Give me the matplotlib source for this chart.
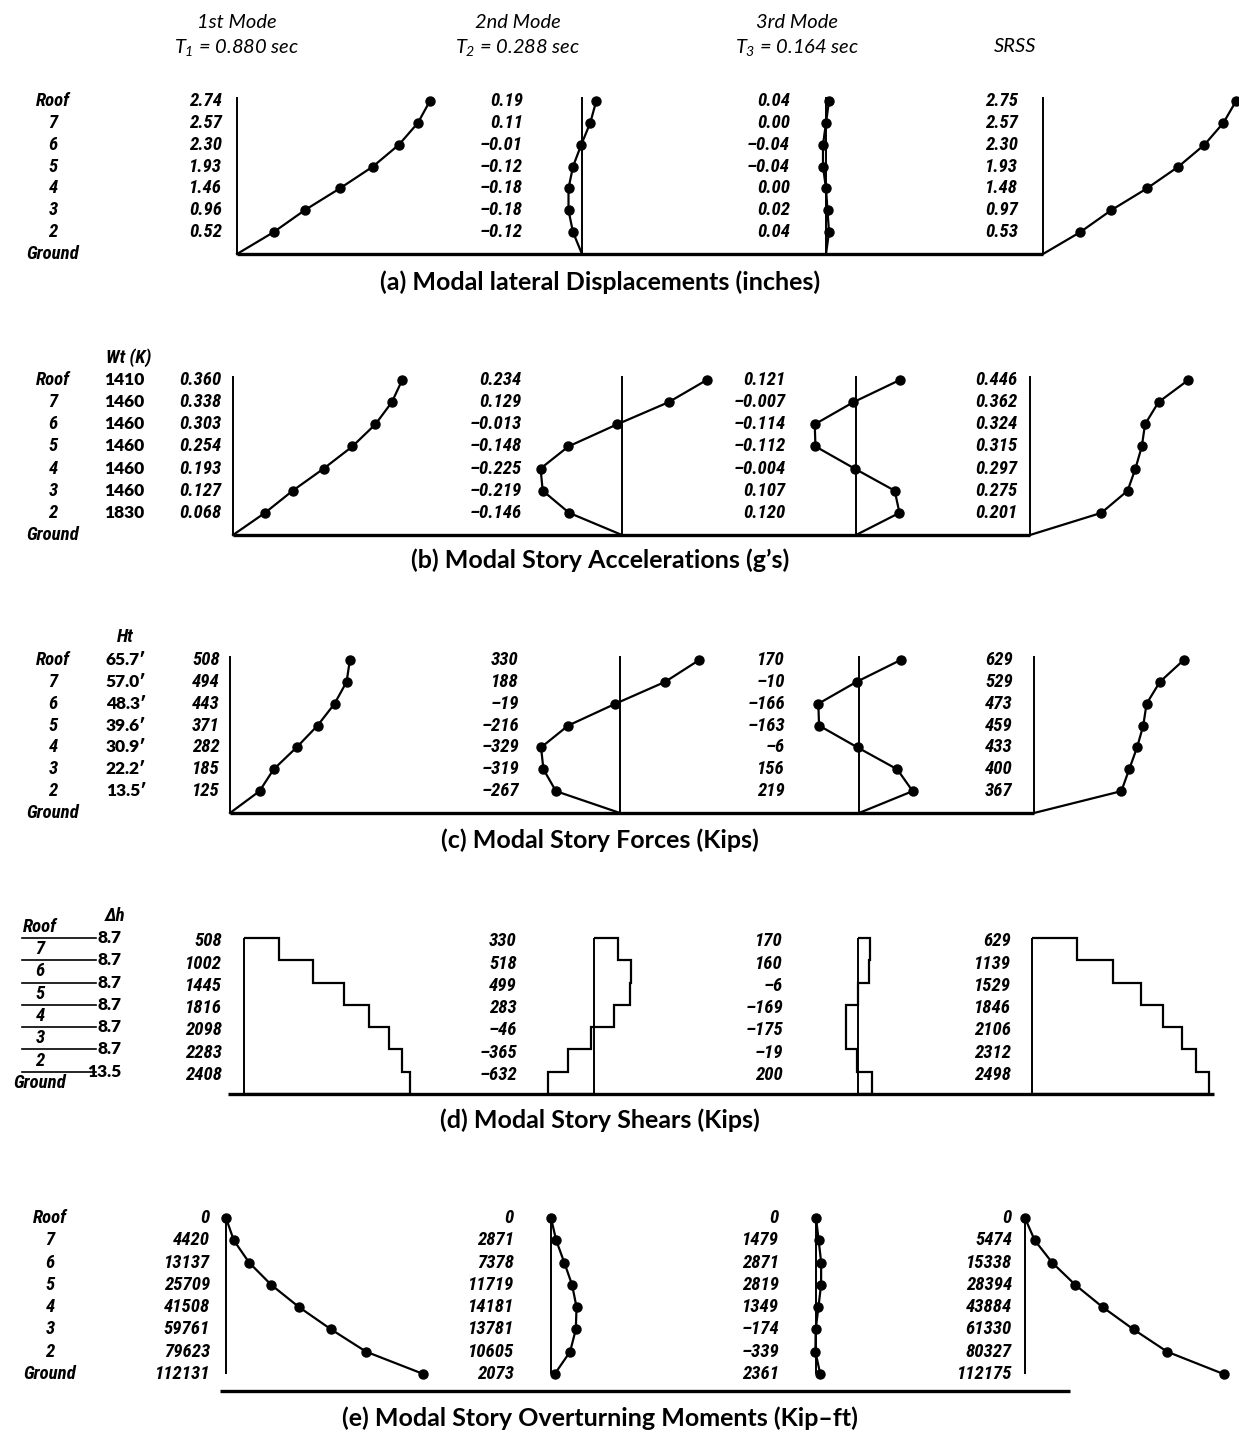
import matplotlib
matplotlib.use("Agg")
import matplotlib.pyplot as plt

# values listed from Roof down to level 2 (Ground is the zero base)
levels = ["Roof", "7", "6", "5", "4", "3", "2", "Ground"]

disp_m1 = [2.74, 2.57, 2.30, 1.93, 1.46, 0.96, 0.52]
disp_m2 = [0.19, 0.11, -0.01, -0.12, -0.18, -0.18, -0.12]
disp_m3 = [0.04, 0.00, -0.04, -0.04, 0.00, 0.02, 0.04]
disp_srss = [2.75, 2.57, 2.30, 1.93, 1.48, 0.97, 0.53]

weights = [1410, 1460, 1460, 1460, 1460, 1460, 1830]
acc_m1 = [0.360, 0.338, 0.303, 0.254, 0.193, 0.127, 0.068]
acc_m2 = [0.234, 0.129, -0.013, -0.148, -0.225, -0.219, -0.146]
acc_m3 = [0.121, -0.007, -0.114, -0.112, -0.004, 0.107, 0.120]
acc_srss = [0.446, 0.362, 0.324, 0.315, 0.297, 0.275, 0.201]

heights = [65.7, 57.0, 48.3, 39.6, 30.9, 22.2, 13.5]
force_m1 = [508, 494, 443, 371, 282, 185, 125]
force_m2 = [330, 188, -19, -216, -329, -319, -267]
force_m3 = [170, -10, -166, -163, -6, 156, 219]
force_srss = [629, 529, 473, 459, 433, 400, 367]

story_dh = [8.7, 8.7, 8.7, 8.7, 8.7, 8.7, 13.5]
shear_m1 = [508, 1002, 1445, 1816, 2098, 2283, 2408]
shear_m2 = [330, 518, 499, 283, -46, -365, -632]
shear_m3 = [170, 160, -6, -169, -175, -19, 200]
shear_srss = [629, 1139, 1529, 1846, 2106, 2312, 2498]

# overturning moments, Roof down to Ground (8 values)
otm_m1 = [0, 4420, 13137, 25709, 41508, 59761, 79623, 112131]
otm_m2 = [0, 2871, 7378, 11719, 14181, 13781, 10605, 2073]
otm_m3 = [0, 1479, 2871, 2819, 1349, -174, -339, 2361]
otm_srss = [0, 5474, 15338, 28394, 43884, 61330, 80327, 112175]

modes = ["1st Mode", "2nd Mode", "3rd Mode"]
periods = ["$T_1$ = 0.880 sec", "$T_2$ = 0.288 sec", "$T_3$ = 0.164 sec"]

plt.rcParams['mathtext.fontset'] = 'custom'
plt.rcParams['mathtext.it'] = 'Lato:italic'
plt.rcParams['mathtext.rm'] = 'Lato:italic'

W, H = 1239, 1432
fig = plt.figure(figsize=(W / 100, H / 100), dpi=100)

NUM = dict(family=['Roboto Condensed', 'Lato'], fontsize=13.5,
           fontweight='bold', fontstyle='italic')
UPR = dict(family='Lato', fontsize=12.5, fontweight='heavy')
CAP = dict(family='Lato', fontsize=18, fontweight='bold')
HDR = dict(family='Lato', fontsize=14.5, fontstyle='italic')

Y7 = [7, 6, 5, 4, 3, 2, 1]
Y8 = [7, 6, 5, 4, 3, 2, 1, 0]


def fmt(v, d):
    return f"{v:.{d}f}".replace("-", "\u2013")


def make_ax(roof_y, ground_y, zero_x, scale):
    sp = (ground_y - roof_y) / 7
    pad = 25
    top, bot = roof_y - pad, ground_y + pad
    ax = fig.add_axes([0, 1 - bot / H, 1, (bot - top) / H])
    ax.set_xlim(-zero_x / scale, (W - zero_x) / scale)
    ax.set_ylim(-pad / sp, 7 + pad / sp)
    ax.axis('off')
    return ax


def level_names(frame, x):
    for i, name in enumerate(levels):
        frame.text(x, 7 - i, name, ha='center', va='center', **NUM)


def profile_panel(roof_y, ground_y, cols, series, dec, base, caption, cap_y):
    frame = make_ax(roof_y, ground_y, 0, 1)
    level_names(frame, 53)
    for (lab_x, zero_x, scale), vals in zip(cols, series):
        ax = make_ax(roof_y, ground_y, zero_x, scale)
        ax.vlines(0, 0, 7.2, color='k', lw=1.4)
        ax.plot(list(vals) + [0], Y7 + [0], color='k', lw=1.6)
        ax.plot(vals, Y7, 'o', color='k', ms=6.5)
        for y, v in zip(Y7, vals):
            frame.text(lab_x, y, fmt(v, dec), ha='right', va='center', **NUM)
    frame.plot(base, [0, 0], color='k', lw=2.4, solid_capstyle='butt')
    fig.text(600 / W, 1 - cap_y / H, caption, ha='center', va='center', **CAP)
    return frame


# headers
for x, m, p in zip([237, 518, 797], modes, periods):
    fig.text(x / W, 1 - 22 / H, m, ha='center', va='center', **HDR)
    fig.text(x / W, 1 - 47 / H, p, ha='center', va='center', **HDR)
fig.text(1015 / W, 1 - 47 / H, "SRSS", ha='center', va='center', **HDR)

# (a) displacements
profile_panel(101, 254,
              [(222, 237, 70.4), (523, 582, 75), (790, 826, 75), (1018, 1043, 70.2)],
              [disp_m1, disp_m2, disp_m3, disp_srss], 2, [237, 1043],
              "(a) Modal lateral Displacements (inches)", 282)

# (b) accelerations
fb = profile_panel(380, 535,
                   [(222, 233, 470), (522, 622, 362), (786, 856, 362), (1018, 1030, 355)],
                   [acc_m1, acc_m2, acc_m3, acc_srss], 3, [233, 1030],
                   "(b) Modal Story Accelerations (g\u2019s)", 560)
fb.text(106, 8.0, "Wt (K)", ha='left', va='center', **NUM)
for y, w in zip(Y7, weights):
    fb.text(124, y, str(w), ha='center', va='center', **UPR)

# (c) forces
fc = profile_panel(660, 813,
                   [(220, 230, 0.236), (519, 620, 0.24), (785, 859, 0.245), (1013, 1034, 0.238)],
                   [force_m1, force_m2, force_m3, force_srss], 0, [230, 1034],
                   "(c) Modal Story Forces (Kips)", 840)
fc.text(117, 8.05, "Ht", ha='left', va='center', **NUM)
for y, h in zip(Y7, heights):
    fc.text(126, y, f"{h:.1f}\u2032", ha='center', va='center', **UPR)

# (d) shears
d_roof, d_ground = 938, 1094
fd = make_ax(d_roof, d_ground, 0, 1)
fd.text(105, 8.0, "\u0394h", ha='left', va='center', **NUM)
for i, name in enumerate(levels):
    fd.text(40, 7 - i + 0.5, name, ha='center', va='center', **NUM)
for y, dh in zip(Y7, story_dh):
    fd.plot([22, 96], [y, y], color='k', lw=1.2)
    fd.text(121, y, f"{dh:.1f}", ha='right', va='center', **UPR)
d_cols = [(222, 244, 0.069), (517, 594, 0.072), (783, 858, 0.07), (1011, 1032, 0.071)]
for (lab_x, zero_x, scale), vals in zip(d_cols, [shear_m1, shear_m2, shear_m3, shear_srss]):
    ax = make_ax(d_roof, d_ground, zero_x, scale)
    ax.stairs(vals[::-1], range(8), orientation='horizontal', baseline=0,
              color='k', lw=1.6)
    ax.vlines(0, 0, 7, color='k', lw=1.4)
    for y, v in zip(Y7, vals):
        fd.text(lab_x, y - 0.15, fmt(v, 0), ha='right', va='center', **NUM)
fd.plot([228, 1214], [0, 0], color='k', lw=2.4, solid_capstyle='butt')
fig.text(600 / W, 1 - 1120 / H, "(d) Modal Story Shears (Kips)", ha='center', va='center', **CAP)

# (e) overturning moments
e_roof, e_ground = 1218, 1374
fe = make_ax(e_roof, e_ground, 0, 1)
level_names(fe, 50)
e_cols = [(210, 226, 0.00176), (514, 551, 0.0018), (779, 816, 0.0018), (1012, 1025, 0.00177)]
for (lab_x, zero_x, scale), vals in zip(e_cols, [otm_m1, otm_m2, otm_m3, otm_srss]):
    ax = make_ax(e_roof, e_ground, zero_x, scale)
    ax.vlines(0, 0, 7, color='k', lw=1.4)
    ax.plot(vals, Y8, '-o', color='k', lw=1.6, ms=6.5)
    for y, v in zip(Y8, vals):
        fe.text(lab_x, y, fmt(v, 0), ha='right', va='center', **NUM)
fe.plot([220, 1070], [-0.75, -0.75], color='k', lw=2.4, solid_capstyle='butt')
fig.text(600 / W, 1 - 1418 / H, "(e) Modal Story Overturning Moments (Kip\u2013ft)",
         ha='center', va='center', **CAP)

fig.savefig("out.png", dpi=100, facecolor='white')
